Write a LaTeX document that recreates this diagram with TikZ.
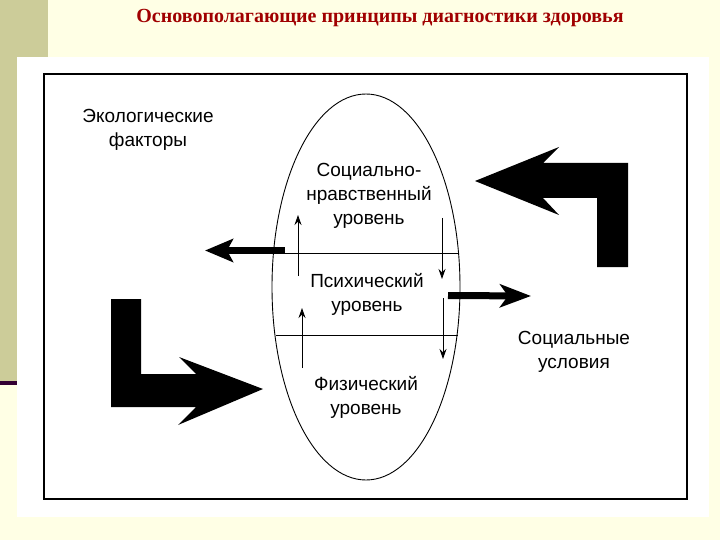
\documentclass[tikz,border=0pt]{standalone}
\usepackage{fontspec}
\setmainfont{Liberation Serif}
\newfontfamily\labelfont{Liberation Sans}
\usepackage{tikz}
\usetikzlibrary{positioning, arrows.meta, shapes.geometric}

\definecolor{slidebg}{RGB}{255,255,229}
\definecolor{olivebar}{RGB}{204,204,153}
\definecolor{titlered}{RGB}{160,0,0}
\definecolor{barline}{RGB}{51,0,51}

\tikzset{
  levelname/.style={font=\labelfont\fontsize{19}{24}\selectfont, align=center, inner sep=0pt},
  thinarrow/.style={line width=0.9pt, -{Stealth[length=10pt,width=7pt]}},
  thickarrow/.style={line width=7pt, -{Stealth[length=28pt,width=23pt,inset=6pt]}},
  divider/.style={line width=1pt}
}

\begin{document}
\begin{tikzpicture}[x=1pt, y=-1pt]
  \useasboundingbox (0,0) rectangle (720,540);
  % slide background
  \fill[slidebg] (0,0) rectangle (720,540);
  \fill[olivebar] (0,0) rectangle (48,383);
  \fill[barline] (0,381) rectangle (48,385);
  \fill[white] (17,57) rectangle (709,517);
  \draw[line width=1.5pt] (44,74) rectangle (687,499);

  \node[font=\bfseries\fontsize{20}{24}\selectfont, text=titlered, inner sep=0pt] (title) at (380,18)
    {Основополагающие принципы диагностики здоровья};

  % the three levels
  \node[ellipse, draw, line width=0.9pt, minimum width=188pt, minimum height=386pt, inner sep=0pt] (body) at (366,287) {};
  \node[levelname] (social) at (369,196) {Социально-\\нравственный\\уровень};
  \node[levelname] (psych) at (367,294) {Психический\\уровень};
  \node[levelname] (phys) at (366,397) {Физический\\уровень};

  \node[levelname] (eco) at (148,130) {Экологические\\факторы};
  \node[levelname] (cond) at (574,352) {Социальные\\условия};

  % dividers
  \coordinate (d1l) at (285,253);
  \coordinate (d1r) at (459,253);
  \coordinate (d2l) at (276,335);
  \coordinate (d2r) at (458,335);
  \draw[divider] (d1l) -- (d1r);
  \draw[divider] (d2l) -- (d2r);

  % thin arrows
  \coordinate (u1a) at (298,276);
  \coordinate (u1b) at (298,215);
  \coordinate (u2a) at (302,368);
  \coordinate (u2b) at (302,308);
  \coordinate (w1a) at (442,218);
  \coordinate (w1b) at (442,279);
  \coordinate (w2a) at (443,298);
  \coordinate (w2b) at (443,359);
  \draw[thinarrow] (u1a) -- (u1b);
  \draw[thinarrow] (u2a) -- (u2b);
  \draw[thinarrow] (w1a) -- (w1b);
  \draw[thinarrow] (w2a) -- (w2b);

  % thick arrows out of the ellipse
  \coordinate (outl) at (205,250.5);
  \coordinate (outr) at (531,296);
  \draw[thickarrow] (d1l |- 0,250.5) -- (outl);
  \draw[thickarrow, -{Stealth[length=31pt,width=23pt,inset=8pt]}] (448,295.5) -- (outr);

  % bent arrows
  \fill (475,181) -- (559,147) -- (543,163) -- (628,163) -- (628,267) -- (597,267)
    -- (597,198) -- (543,198) -- (559,215) -- cycle;
  \fill (111,299) -- (141,299) -- (141,374) -- (196,374) -- (179,357) -- (263,389)
    -- (178,425) -- (196,407) -- (111,407) -- cycle;
\end{tikzpicture}
\end{document}
